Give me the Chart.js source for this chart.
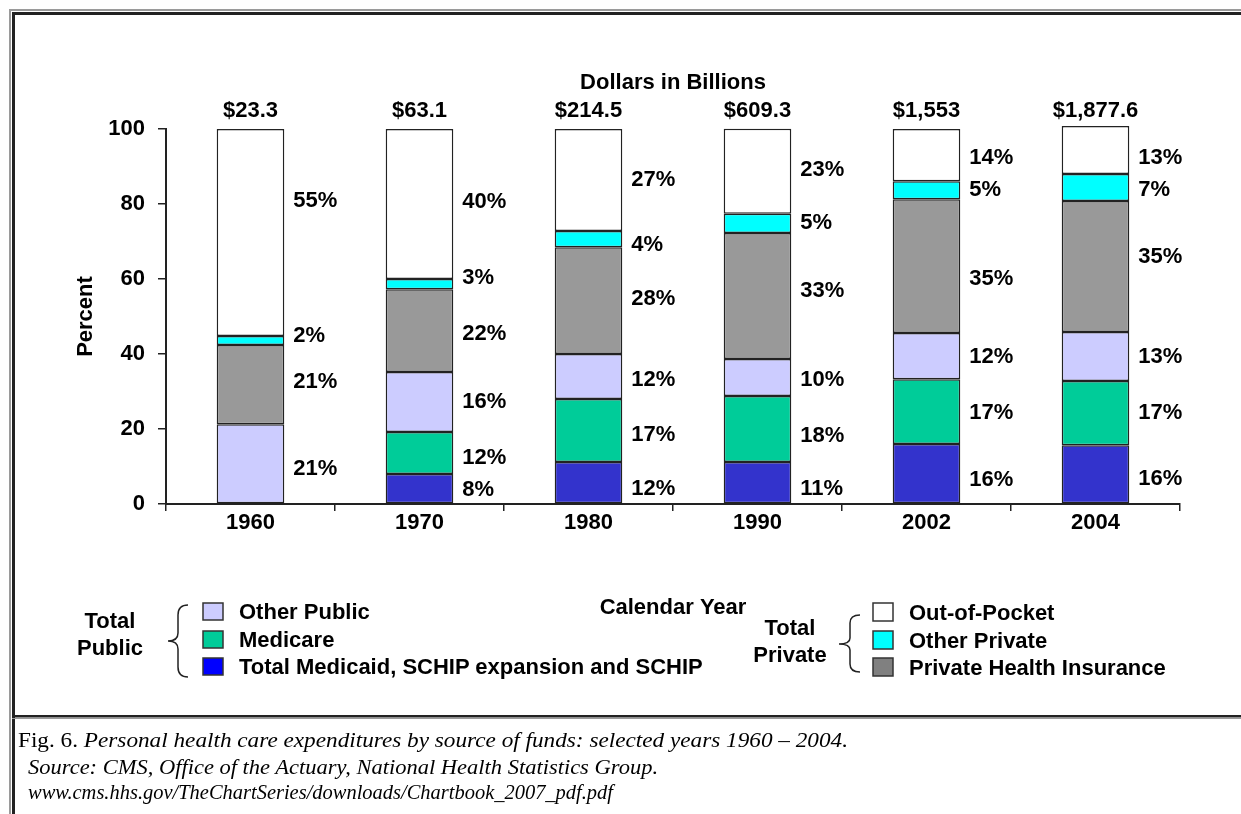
<!DOCTYPE html>
<html>
<head>
<meta charset="utf-8">
<title>Personal health care expenditures by source of funds</title>
<script src="https://cdn.jsdelivr.net/npm/chart.js@4.4.1/dist/chart.umd.min.js"></script>
<style>
body { margin: 0; background: #fff; }
#wrap { position: relative; width: 1241px; height: 814px; overflow: hidden; background: #fff; }
#chart, #overlay { position: absolute; left: 0; top: 0; }
.sans { font-family: "Liberation Sans", Arial, sans-serif; font-weight: bold; font-size: 22px; fill: #000; }
.serif { font-family: "Liberation Serif", "Times New Roman", serif; fill: #000; }
</style>
</head>
<body>
<div id="wrap">
<canvas id="chart" width="1241" height="814"></canvas>
<svg id="overlay" width="1241" height="814">
  <!-- frame -->
  <rect x="9" y="9" width="1232" height="2" fill="#9a9a9a"/>
  <rect x="12" y="12" width="1229" height="3" fill="#222"/>
  <rect x="9" y="9" width="2" height="805" fill="#9a9a9a"/>
  <rect x="12" y="12" width="3" height="802" fill="#222"/>
  <rect x="12" y="715" width="1229" height="2.5" fill="#222"/>
  <rect x="12" y="718" width="1229" height="1" fill="#9a9a9a"/>

  <!-- public legend -->
  <text class="sans" x="110" y="620" text-anchor="middle" dominant-baseline="central">Total</text>
  <text class="sans" x="110" y="647" text-anchor="middle" dominant-baseline="central">Public</text>
  <path d="M188,605 Q178,605 178,615 L178,633 Q178,641 168,641 Q178,641 178,649 L178,667 Q178,677 188,677" fill="none" stroke="#222" stroke-width="1.5"/>
  <rect x="203" y="603" width="20" height="17" fill="#CCCCFF" stroke="#333" stroke-width="1.5"/>
  <rect x="203" y="631" width="20" height="17" fill="#00CC99" stroke="#333" stroke-width="1.5"/>
  <rect x="203" y="658" width="20" height="17" fill="#0000FF" stroke="#333" stroke-width="1.5"/>
  <text class="sans" x="239" y="611" dominant-baseline="central">Other Public</text>
  <text class="sans" x="239" y="639" dominant-baseline="central">Medicare</text>
  <text class="sans" x="239" y="666" dominant-baseline="central">Total Medicaid, SCHIP expansion and SCHIP</text>

  <!-- private legend -->
  <text class="sans" x="790" y="627" text-anchor="middle" dominant-baseline="central">Total</text>
  <text class="sans" x="790" y="654" text-anchor="middle" dominant-baseline="central">Private</text>
  <path d="M860,615 Q850,615 850,623 L850,638 Q850,644 839,644 Q850,644 850,650 L850,664 Q850,672 860,672" fill="none" stroke="#222" stroke-width="1.5"/>
  <rect x="873" y="603" width="20" height="18" fill="#FFFFFF" stroke="#333" stroke-width="1.5"/>
  <rect x="873" y="631" width="20" height="18" fill="#00FFFF" stroke="#333" stroke-width="1.5"/>
  <rect x="873" y="658" width="20" height="18" fill="#808080" stroke="#333" stroke-width="1.5"/>
  <text class="sans" x="909" y="612" dominant-baseline="central">Out-of-Pocket</text>
  <text class="sans" x="909" y="640" dominant-baseline="central">Other Private</text>
  <text class="sans" x="909" y="667" dominant-baseline="central">Private Health Insurance</text>

  <!-- caption -->
  <text class="serif" x="18" y="747" font-size="22" textLength="830" lengthAdjust="spacingAndGlyphs">Fig. 6. <tspan font-style="italic">Personal health care expenditures by source of funds: selected years 1960 – 2004.</tspan></text>
  <text class="serif" x="28" y="774" font-size="21" font-style="italic" textLength="630" lengthAdjust="spacingAndGlyphs">Source:  CMS, Office of the Actuary, National Health Statistics Group.</text>
  <text class="serif" x="28" y="799" font-size="21" font-style="italic" textLength="585" lengthAdjust="spacingAndGlyphs">www.cms.hhs.gov/TheChartSeries/downloads/Chartbook_2007_pdf.pdf</text>
</svg>
</div>
<script>
// data (percent of total, bottom to top of each bar)
var years = ["1960", "1970", "1980", "1990", "2002", "2004"];
var totals = ["$23.3", "$63.1", "$214.5", "$609.3", "$1,553", "$1,877.6"];

var medicaid = [null, 8.0, 11.2, 11.2, 16.0, 15.7];
var medicare = [null, 11.2, 16.8, 17.6, 17.3, 17.1];
var otherPublic = [21.3, 16.0, 12.0, 9.9, 12.3, 13.1];
var privateIns = [21.1, 22.1, 28.5, 33.6, 35.7, 34.9];
var otherPrivate = [2.4, 2.7, 4.3, 5.1, 4.8, 7.2];
var outOfPocket = [55.2, 40.0, 27.2, 22.7, 13.9, 12.8];

// printed percent labels
var medicaidLbl = [null, "8%", "12%", "11%", "16%", "16%"];
var medicareLbl = [null, "12%", "17%", "18%", "17%", "17%"];
var otherPublicLbl = ["21%", "16%", "12%", "10%", "12%", "13%"];
var privateInsLbl = ["21%", "22%", "28%", "33%", "35%", "35%"];
var otherPrivateLbl = ["2%", "3%", "4%", "5%", "5%", "7%"];
var outOfPocketLbl = ["55%", "40%", "27%", "23%", "14%", "13%"];

var yTicks = [0, 20, 40, 60, 80, 100];

var FONT = '"Liberation Sans", Arial, sans-serif';
Chart.defaults.font.family = FONT;
Chart.defaults.color = "#000";

function series(label, data, lbls, color, nudge) {
    return {
        label: label,
        data: data,
        pctLabels: lbls,
        labelNudge: nudge || [0, 0, 0, 0, 0, 0],
        backgroundColor: color,
        borderColor: "#222",
        borderWidth: 1.5,
        borderSkipped: false,
        barPercentage: 0.4,
        categoryPercentage: 1,
        clip: false
    };
}

// percent labels to the right of each segment, dollar totals above the bars
var barLabels = {
    id: "barLabels",
    afterDatasetsDraw: function(chart) {
        var ctx = chart.ctx;
        ctx.save();
        ctx.font = "bold 22px " + FONT;
        ctx.fillStyle = "#000";
        ctx.textBaseline = "middle";
        ctx.textAlign = "left";
        chart.data.datasets.forEach(function(ds, di) {
            var meta = chart.getDatasetMeta(di);
            meta.data.forEach(function(bar, i) {
                var txt = ds.pctLabels[i];
                if (!txt || ds.data[i] == null) return;
                ctx.fillText(txt, bar.x + bar.width / 2 + 9, (bar.y + bar.base) / 2 + ds.labelNudge[i]);
            });
        });
        var top = chart.scales.y.getPixelForValue(100);
        ctx.textAlign = "center";
        totals.forEach(function(t, i) {
            ctx.fillText(t, chart.scales.x.getPixelForValue(i), top - 18);
        });
        ctx.restore();
    }
};

var chart = new Chart(document.getElementById("chart"), {
    type: "bar",
    data: {
        labels: years,
        datasets: [
            series("Total Medicaid, SCHIP expansion and SCHIP", medicaid, medicaidLbl, "#3333CC", [0, 1, 6, 6, 6, 5]),
            series("Medicare", medicare, medicareLbl, "#00CC99", [0, 5, 4, 7, 1, 0]),
            series("Other Public", otherPublic, otherPublicLbl, "#CCCCFF", [5, 0, 3, 2, 1, 0]),
            series("Private Health Insurance", privateIns, privateInsLbl, "#999999", [-3, 3, -2, -5, 13, -10]),
            series("Other Private", otherPrivate, otherPrivateLbl, "#00FFFF", [-5, -6, 6, 0, 0, 2]),
            series("Out-of-Pocket", outOfPocket, outOfPocketLbl, "#FFFFFF", [-32, -2, 0, -1, 3, 8])
        ]
    },
    options: {
        responsive: false,
        animation: false,
        layout: { padding: { left: 0, right: 61, top: 0, bottom: 193 } },
        plugins: {
            legend: { display: false },
            tooltip: { enabled: false },
            title: {
                display: true,
                text: "Dollars in Billions",
                fullSize: false,
                color: "#000",
                font: { size: 22, weight: "bold" },
                padding: { top: 70, bottom: 32.6 }
            }
        },
        scales: {
            x: {
                stacked: true,
                grid: { drawOnChartArea: false, drawTicks: true, tickLength: 7, color: "#222", lineWidth: 1.5 },
                border: { display: true, color: "#222", width: 2 },
                ticks: { color: "#000", font: { size: 22, weight: "bold" }, padding: -1 },
                title: { display: true, text: "Calendar Year", color: "#000", font: { size: 22, weight: "bold" }, padding: 0 },
                afterFit: function(s) { s.height = 117; }
            },
            y: {
                stacked: true,
                min: 0,
                max: 100,
                afterBuildTicks: function(s) {
                    s.ticks = yTicks.map(function(v) { return { value: v }; });
                },
                grid: { drawOnChartArea: false, drawTicks: true, tickLength: 8, color: "#222", lineWidth: 1.5 },
                border: { display: true, color: "#222", width: 2 },
                ticks: { color: "#000", font: { size: 22, weight: "bold" }, padding: 13 },
                title: { display: true, text: "Percent", color: "#000", font: { size: 22, weight: "bold" }, padding: { top: 73, bottom: 0 } },
                afterFit: function(s) { s.width = 166; }
            }
        }
    },
    plugins: [barLabels]
});
</script>
</body>
</html>
